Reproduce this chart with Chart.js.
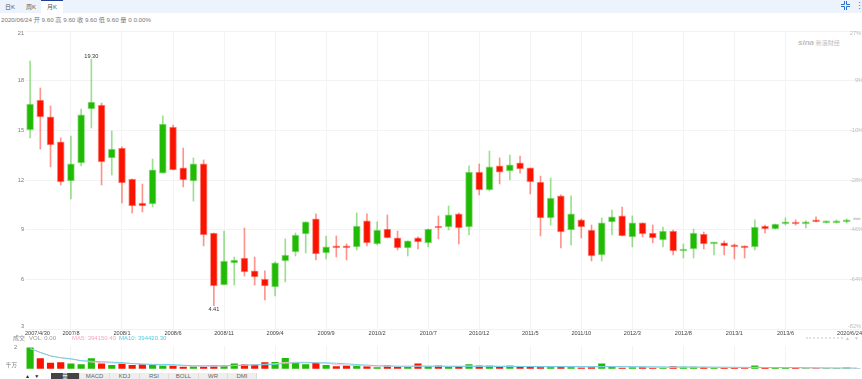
<!DOCTYPE html>
<html lang="zh-CN">
<head>
<meta charset="UTF-8">
<title>月K</title>
<script src="https://cdn.jsdelivr.net/npm/chart.js"></script>
<style>
  html, body { margin: 0; padding: 0; background: #fff; }
  body { width: 862px; height: 379px; overflow: hidden; position: relative; font-family: "Liberation Sans", "Noto Sans CJK SC", sans-serif; }
  canvas { position: absolute; left: 0; }
  .abs { position: absolute; white-space: nowrap; }
  .topbar { left: 0; top: 0; width: 862px; height: 13px; background: #edf3fc; }
  .tab { top: 0; height: 13px; line-height: 14px; font-size: 6px; color: #555; text-align: center; }
  .tab.on { background: #fff; border-top: 1px solid #22408f; height: 12px; line-height: 12px; }
  .info { left: 1px; top: 16px; font-size: 6.2px; line-height: 8px; color: #777; }
  .legend { top: 334px; font-size: 6px; line-height: 8px; }
  .sub { top: 373px; height: 6px; line-height: 7px; font-size: 6px; color: #666; background: #eee; text-align: center; border-right: 1px solid #ddd; box-sizing: border-box; }
</style>
</head>
<body>
<div class="abs topbar"></div>
<div class="abs tab" style="left:0;width:20px">日K</div>
<div class="abs tab" style="left:21px;width:20px">周K</div>
<div class="abs tab on" style="left:41px;width:22px">月K</div>
<svg class="abs" style="left:841px;top:1px" width="9" height="9" viewBox="0 0 9 9" fill="none" stroke="#2c6fd0" stroke-width="1">
  <path d="M3.5 0V3.5H0M5.5 0V3.5H9M3.5 9V5.5H0M5.5 9V5.5H9"/>
</svg>
<div class="abs" style="left:855px;top:0;font-size:9px;line-height:12px;color:#2c6fd0">&#8942;</div>
<div class="abs info">2020/06/24 开 9.60 高 9.60 收 9.60 低 9.60 量 0 0.00%</div>
<div class="abs" style="left:798px;top:38px;font-size:6px;line-height:9px;color:#bdbdbd"><i style="font-size:8px"><b>sina</b></i> 新浪财经</div>

<canvas id="mainChart" width="862" height="340" style="top:0"></canvas>
<canvas id="volChart" width="862" height="29" style="top:343px"></canvas>

<div class="abs legend" style="left:13px;color:#888">成交</div>
<div class="abs legend" style="left:29px;color:#999">VOL: 0.00</div>
<div class="abs legend" style="left:72px;color:#f7a6bd">MA5: 394150.40</div>
<div class="abs legend" style="left:119px;color:#55cbe2">MA10: 394420.30</div>
<div class="abs" style="left:806px;top:337px;width:37px;border-top:2px dotted #e2e2e2"></div>
<div class="abs" style="left:845px;top:335px;font-size:5px;line-height:7px;color:#ccc">▲&nbsp;&nbsp;&nbsp;▼</div>

<div class="abs" style="left:25px;top:373px;font-size:5px;line-height:7px;color:#222;width:22px;background:#fff;word-spacing:3px">▲ ▼</div>
<div class="abs sub" style="left:51px;width:29px;background:#444;color:#fff;font-size:5.5px">量</div>
<div class="abs sub" style="left:80px;width:30px">MACD</div>
<div class="abs sub" style="left:110px;width:30px">KDJ</div>
<div class="abs sub" style="left:140px;width:29px">RSI</div>
<div class="abs sub" style="left:169px;width:30px">BOLL</div>
<div class="abs sub" style="left:199px;width:29px">WR</div>
<div class="abs sub" style="left:228px;width:29px">DMI</div>

<script>
  const categories = [
    '2007/4/30','2007/5','2007/6','2007/7','2007/8','2007/9','2007/10','2007/11','2007/12',
    '2008/1','2008/2','2008/3','2008/4','2008/5','2008/6','2008/7','2008/8','2008/9','2008/10','2008/11','2008/12',
    '2009/1','2009/2','2009/3','2009/4','2009/5','2009/6','2009/7','2009/8','2009/9','2009/10','2009/11','2009/12',
    '2010/1','2010/2','2010/3','2010/4','2010/5','2010/6','2010/7','2010/8','2010/9','2010/10','2010/11','2010/12',
    '2011/1','2011/2','2011/3','2011/4','2011/5','2011/6','2011/7','2011/8','2011/9','2011/10','2011/11','2011/12',
    '2012/1','2012/2','2012/3','2012/4','2012/5','2012/6','2012/7','2012/8','2012/9','2012/10','2012/11','2012/12',
    '2013/1','2013/2','2013/3','2013/4','2013/5','2013/6','2013/7','2013/8','2013/9','2013/10','2013/11','2013/12',
    '2020/6/24'
  ];
  const xTickLabels = ['2007/4/30','2007/8','2008/1','2008/6','2008/11','2009/4','2009/9','2010/2','2010/7','2010/12',
    '2011/5','2011/10','2012/3','2012/8','2013/1','2013/6','2020/6/24'];

  const opens = [15.02,16.83,15.81,14.30,11.94,13.03,16.29,16.53,13.33,13.93,12.06,10.61,10.55,12.42,15.20,12.73,11.94,12.97,8.80,5.66,6.99,
    7.29,6.51,6.02,5.54,7.11,7.65,8.74,9.65,7.59,8.02,8.02,7.96,9.53,8.14,9.04,8.50,7.90,8.50,8.20,9.22,
    9.16,9.95,9.16,12.48,11.40,12.85,12.55,13.03,12.73,11.88,9.71,11.04,8.98,9.59,8.98,7.47,9.47,9.83,8.56,9.41,
    8.80,8.38,8.92,7.71,7.83,8.74,8.14,8.20,8.08,7.96,7.96,9.22,9.04,9.34,9.41,9.34,9.53,9.41,9.41,9.47,9.60];
  const closes = [16.59,15.81,14.12,11.88,12.97,15.93,16.71,13.09,13.87,11.82,10.43,10.43,12.61,15.38,12.61,12.00,12.97,8.68,5.60,7.11,7.17,
    6.45,6.14,5.60,6.99,7.47,8.68,9.47,7.53,7.96,7.90,7.90,9.22,8.20,8.98,8.50,7.90,8.32,8.26,9.04,9.10,
    9.89,9.10,12.48,11.40,12.79,12.48,12.91,12.67,11.88,9.71,10.91,8.86,9.95,9.16,7.41,9.41,9.77,8.62,9.41,8.74,
    8.50,8.92,7.71,7.83,8.80,8.14,8.20,8.02,7.96,7.90,9.16,9.04,9.34,9.47,9.34,9.47,9.47,9.47,9.53,9.59,9.60];
  const highs = [19.19,17.56,16.47,14.54,14.66,16.29,19.30,16.65,14.96,14.00,12.06,11.76,13.27,15.87,15.32,13.93,13.33,13.21,8.80,8.92,7.35,
    9.10,7.35,6.51,7.05,8.44,8.80,9.47,9.95,8.62,8.62,8.14,10.01,9.95,9.47,9.89,8.92,8.32,8.56,9.04,9.83,
    10.43,10.01,12.85,12.97,13.75,13.33,13.51,13.45,12.73,12.24,12.12,11.10,11.04,9.65,9.28,9.71,10.19,10.37,9.83,9.41,
    9.28,9.16,8.98,8.14,9.04,8.86,8.20,8.32,8.14,8.02,9.59,9.28,9.34,9.71,9.59,9.53,9.77,9.53,9.59,9.65,9.60];
  const lows = [14.54,13.87,12.79,11.70,10.85,12.85,15.14,11.70,12.30,10.61,10.01,10.07,10.37,12.42,12.61,11.58,10.73,8.02,4.41,5.66,5.66,
    6.20,5.66,4.76,5.00,5.84,7.41,7.59,7.17,7.23,7.35,7.17,7.77,8.02,8.08,8.50,7.77,7.41,7.83,7.96,8.44,
    8.98,8.14,8.68,11.10,11.34,11.76,12.00,12.42,11.16,8.62,9.28,7.90,8.08,8.50,7.11,7.11,8.68,8.62,7.96,8.56,
    8.20,7.96,7.47,7.29,7.29,7.83,7.47,7.47,7.23,7.29,7.77,8.80,9.04,9.28,9.28,9.10,9.47,9.41,9.41,9.41,9.60];

  // volume, in units of 千万
  const volumes = [2.00,0.97,0.54,0.59,0.46,0.38,0.97,0.46,0.33,0.46,0.33,0.41,0.33,0.26,0.26,0.15,0.18,0.18,0.28,0.28,0.46,
    0.38,0.38,0.59,0.62,1.00,0.54,0.38,0.51,0.31,0.20,0.26,0.33,0.20,0.10,0.26,0.15,0.18,0.46,0.23,0.26,
    0.13,0.23,0.38,0.28,0.26,0.13,0.26,0.15,0.18,0.18,0.18,0.23,0.15,0.08,0.15,0.46,0.15,0.05,0.10,0.10,
    0.08,0.10,0.20,0.15,0.15,0.13,0.05,0.08,0.08,0.08,0.28,0.05,0.05,0.05,0.05,0.03,0.03,0.02,0.03,0.08,0.02];
  const ma5 = [1.95,1.56,1.23,1.05,0.92,0.76,0.64,0.58,0.55,0.52,0.48,0.44,0.40,0.34,0.32,0.28,0.26,0.22,0.22,0.25,0.30,
    0.36,0.38,0.42,0.47,0.60,0.62,0.62,0.58,0.52,0.40,0.33,0.30,0.26,0.24,0.23,0.21,0.20,0.24,0.25,0.25,
    0.24,0.24,0.25,0.25,0.26,0.25,0.24,0.21,0.20,0.18,0.18,0.19,0.18,0.17,0.16,0.20,0.20,0.19,0.18,0.18,
    0.10,0.10,0.12,0.13,0.14,0.14,0.13,0.11,0.10,0.08,0.12,0.11,0.11,0.10,0.10,0.04,0.04,0.04,0.04,0.04,0.04];
  const ma10 = [1.95,1.56,1.23,1.05,0.95,0.77,0.72,0.67,0.62,0.59,0.49,0.44,0.41,0.41,0.38,0.33,0.28,0.28,0.28,0.28,0.30,
    0.32,0.36,0.38,0.42,0.50,0.56,0.56,0.56,0.56,0.52,0.46,0.40,0.34,0.28,0.26,0.24,0.24,0.24,0.23,0.23,
    0.22,0.22,0.22,0.22,0.22,0.21,0.21,0.21,0.21,0.20,0.20,0.20,0.20,0.20,0.19,0.19,0.19,0.19,0.19,0.18,
    0.18,0.17,0.16,0.16,0.15,0.15,0.14,0.14,0.13,0.12,0.12,0.11,0.11,0.10,0.10,0.09,0.08,0.07,0.06,0.05,0.05];

  const priceTicks = [21,18,15,12,9,6,3];
  const pctLabels = ['27%','9%','-10%','-28%','-46%','-64%','-82%'];
  const volTicks = [2,0.3];
  const volTickLabels = ['2','千万'];

  const RED = 'rgb(250,20,0)', GREEN = 'rgb(33,186,5)', GRAY = 'rgb(190,190,190)';
  const RED_L = 'rgba(250,20,0,.45)', GREEN_L = 'rgba(33,186,5,.45)', GRAY_L = 'rgba(190,190,190,.6)';
  const GRID = '#f3f3f3';
  const FONT = '"Liberation Sans", sans-serif';

  function colorOf(i, up, down, flat) {
    if (closes[i] > opens[i]) return up;
    if (closes[i] < opens[i]) return down;
    return flat;
  }

  function vGrid(c) {
    return c.tick && xTickLabels.includes(categories[c.index]) && c.index > 0 && c.index < categories.length - 1 ? GRID : 'transparent';
  }

  // first/last axis labels sit inside the plot edge, and the max/min marks get their price
  const edgeLabels = {
    id: 'edgeLabels',
    afterDatasetsDraw(chart) {
      const c = chart.ctx, x = chart.scales.x, y = chart.scales.y;
      const last = categories.length - 1;
      c.save();
      c.font = '5.6px ' + FONT;
      c.textBaseline = 'middle';
      c.fillStyle = '#444';
      c.textAlign = 'left';
      c.fillText(categories[0], x.left, y.bottom + 4);
      c.textAlign = 'right';
      c.fillText(categories[last], x.right, y.bottom + 4);
      c.fillStyle = '#777';
      c.fillText(priceTicks[0], x.left - 1, y.top + 2);
      c.fillText(priceTicks[6], x.left - 1, y.bottom - 3);
      c.fillStyle = '#bbb';
      c.fillText(pctLabels[0], x.right - 1, y.top + 2);
      c.fillText(pctLabels[6], x.right - 1, y.bottom - 3);
      c.fillStyle = '#333';
      c.textAlign = 'center';
      const hi = highs.indexOf(Math.max(...highs)), lo = lows.indexOf(Math.min(...lows));
      c.fillText(highs[hi].toFixed(2), x.getPixelForValue(hi), y.getPixelForValue(highs[hi]) - 3);
      c.fillText(lows[lo].toFixed(2), x.getPixelForValue(lo), y.getPixelForValue(lows[lo]) + 3.5);
      c.restore();
    }
  };

  new Chart(document.getElementById('mainChart'), {
    type: 'bar',
    plugins: [edgeLabels],
    data: {
      labels: categories,
      datasets: [
        {
          label: 'body',
          data: opens.map((o, i) => [o, closes[i]]),
          backgroundColor: c => colorOf(c.dataIndex, GREEN, RED, GRAY),
          borderColor: c => colorOf(c.dataIndex, GREEN_L, RED_L, GRAY_L),
          borderWidth: 1,
          borderSkipped: false,
          barThickness: 7,
          minBarLength: 2
        },
        {
          label: 'wick',
          data: lows.map((l, i) => [l, highs[i]]),
          backgroundColor: c => colorOf(c.dataIndex, GREEN_L, RED_L, GRAY_L),
          barThickness: 1
        }
      ]
    },
    options: {
      responsive: false,
      animation: false,
      events: [],
      layout: { padding: { top: 31 } },
      plugins: { legend: { display: false }, tooltip: { enabled: false } },
      scales: {
        x: {
          afterFit: s => { s.height = 11; },
          border: { display: false },
          grid: { offset: false, color: vGrid, drawTicks: false },
          ticks: {
            autoSkip: false, maxRotation: 0, padding: 1, color: '#444',
            font: { size: 5.6, family: FONT },
            callback: function (v, i) {
              const t = categories[i];
              return xTickLabels.includes(t) && i > 0 && i < categories.length - 1 ? t : '';
            }
          }
        },
        y: {
          min: 3, max: 21,
          afterFit: s => { s.width = 25; },
          afterBuildTicks: s => { s.ticks = priceTicks.map(v => ({ value: v })); },
          border: { display: false },
          grid: { color: GRID, drawTicks: false },
          ticks: {
            padding: 1, color: '#777',
            font: { size: 5.6, family: FONT },
            callback: v => (v === 21 || v === 3 ? '' : v)
          }
        },
        pct: {
          position: 'right',
          min: 3, max: 21,
          afterFit: s => { s.width = 0; },
          afterBuildTicks: s => { s.ticks = priceTicks.map(v => ({ value: v })); },
          border: { display: false },
          grid: { display: false },
          ticks: {
            mirror: true, padding: 1, color: '#bbb',
            font: { size: 5.6, family: FONT },
            callback: v => (v === 21 || v === 3 ? '' : pctLabels[priceTicks.indexOf(v)])
          }
        }
      },
      datasets: { bar: { grouped: false } }
    }
  });

  new Chart(document.getElementById('volChart'), {
    type: 'bar',
    data: {
      labels: categories,
      datasets: [
        { type: 'line', label: 'MA10', data: ma10, borderColor: '#6fd0e6', borderWidth: 1, pointRadius: 0, order: 1 },
        { type: 'line', label: 'MA5', data: ma5, borderColor: '#f9c4d2', borderWidth: 1, pointRadius: 0, order: 2 },
        {
          label: 'VOL', data: volumes, order: 3, barThickness: 6.5,
          backgroundColor: c => colorOf(c.dataIndex, GREEN, RED, GRAY)
        }
      ]
    },
    options: {
      responsive: false,
      animation: false,
      events: [],
      plugins: { legend: { display: false }, tooltip: { enabled: false } },
      scales: {
        x: {
          afterFit: s => { s.height = 0; },
          border: { display: false },
          grid: { offset: false, color: vGrid, drawTicks: false },
          ticks: { display: false, autoSkip: false }
        },
        y: {
          min: 0, max: 2.15,
          afterFit: s => { s.width = 25; },
          afterBuildTicks: s => { s.ticks = volTicks.map(v => ({ value: v })); },
          border: { display: false },
          grid: { display: false },
          ticks: {
            padding: 0, color: '#777',
            font: { size: 5.6, family: FONT + ', "Noto Sans CJK SC"' },
            callback: v => volTickLabels[volTicks.indexOf(v)]
          }
        }
      }
    }
  });
</script>
</body>
</html>
